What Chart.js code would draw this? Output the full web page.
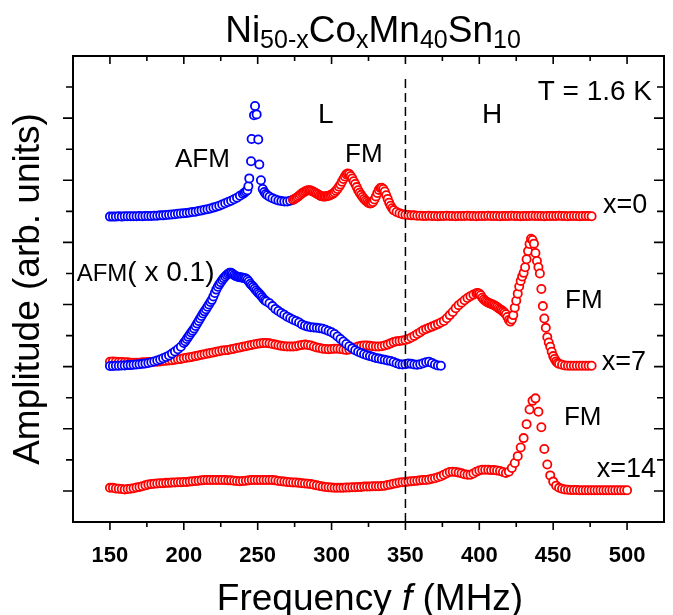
<!DOCTYPE html>
<html>
<head>
<meta charset="utf-8">
<script src="https://cdn.jsdelivr.net/npm/chart.js@4.4.0/dist/chart.umd.min.js"></script>
<style>
html,body{margin:0;padding:0;background:#ffffff;}
#wrap{width:673px;height:615px;position:relative;}
</style>
</head>
<body>
<div id="wrap"><canvas id="c" width="673" height="615"></canvas></div>
<script>
// ---------------- data ----------------
const xLabelValues = [150,200,250,300,350,400,450,500];
const xMinorValues = [150,175,200,225,250,275,300,325,350,375,400,425,450,475,500];
const yTickValues = [1,2,3,4,5,6,7,8,9,10,11,12,13,14];
const dividerFreq = [350,350];
const dividerAmp = [0,14.4];

// x = 0, AFM (blue)
const x0AfmFreq = [150,152,154,156,158,160,162,164,166,168,170,172,174,176,178,180,182,184,186,188,190,192,194,196,198,200,202,204,206,208,210,212,214,216,218,220,222,224,226,228,230,232,234,236,238,240,241,242,243,243.7,244.3,245.5,245.9,247.5,248.2,249.3,250.4,251.1,252.2,253.4,254.5,255.5,256.5,258,260,262,264,266,268,270,272,274];
const x0AfmAmp = [9.83,9.83,9.83,9.84,9.83,9.84,9.84,9.84,9.84,9.84,9.85,9.84,9.85,9.85,9.85,9.86,9.86,9.87,9.87,9.88,9.89,9.90,9.91,9.92,9.93,9.94,9.95,9.96,9.98,9.99,10.01,10.03,10.05,10.07,10.09,10.12,10.15,10.18,10.22,10.26,10.30,10.34,10.39,10.44,10.50,10.56,10.60,10.64,10.68,10.81,11.06,11.61,12.33,13.09,13.39,13.12,12.31,11.51,11.00,10.72,10.62,10.56,10.52,10.47,10.42,10.38,10.35,10.33,10.32,10.32,10.34,10.37];

// x = 0, FM (red)
const x0FmFreq = [274,275,276,277,278,279,280,281,282,283,284,285,286,287,288,289,290,291,292,293,294,295,296,297,298,299,300,301,302,303,304,305,306,307,308,309,310,311,312,313,314,315,316,317,318,319,320,321,322,323,324,325,326,327,328,329,330,331,332,333,334,335,336,337,338,339,340,341,342,344,346,348,350,352,354,356,358,360,362,364,366,368,370,372,374,376,378,380,382,384,386,388,390,392,394,396,398,400,402,404,406,408,410,412,414,416,418,420,422,424,426,428,430,432,434,436,438,440,442,444,446,448,450,452,454,456,458,460,462,464,466,468,470,472,474,476];
const x0FmAmp = [10.37,10.40,10.43,10.46,10.50,10.54,10.58,10.61,10.64,10.66,10.68,10.68,10.67,10.65,10.62,10.60,10.57,10.54,10.51,10.49,10.48,10.48,10.48,10.49,10.50,10.52,10.54,10.57,10.61,10.66,10.72,10.79,10.86,10.95,11.04,11.12,11.19,11.22,11.20,11.14,11.06,10.97,10.88,10.78,10.68,10.60,10.53,10.46,10.40,10.35,10.31,10.27,10.25,10.26,10.30,10.38,10.48,10.59,10.69,10.75,10.76,10.72,10.64,10.52,10.40,10.28,10.18,10.10,10.04,9.98,9.94,9.91,9.89,9.88,9.87,9.87,9.86,9.86,9.85,9.85,9.86,9.85,9.85,9.84,9.85,9.85,9.86,9.85,9.85,9.84,9.85,9.85,9.85,9.86,9.85,9.85,9.84,9.85,9.85,9.85,9.86,9.85,9.85,9.85,9.84,9.85,9.85,9.85,9.86,9.85,9.85,9.84,9.85,9.85,9.85,9.86,9.85,9.85,9.85,9.84,9.85,9.85,9.85,9.85,9.86,9.85,9.85,9.84,9.85,9.85,9.85,9.84,9.85,9.85,9.85,9.84];

// x = 7, AFM x 0.1 (blue)
const x7AfmFreq = [150,152,154,156,158,160,162,164,166,168,170,172,174,176,178,180,182,184,186,188,190,192,194,196,198,200,201,202,203,204,205,206,207,208,209,210,211,212,213,214,215,216,217,218,219,220,221,222,223,224,225,226,227,228,229,230,231,232,233,234,235,236,237,238,239,240,241,242,243,244,245,246,247,248,249,250,251,252,253,254,255,256,258,260,262,264,266,268,270,272,274,276,278,280,282,284,286,288,290,292,294,296,298,300,302,304,306,308,310,312,314,316,318,320,322,324,326,328,330,332,334,336,338,340,342,344,346,348,350,352,354,356,358,360,362,364,366,368,370,372,374];
const x7AfmAmp = [5.02,5.02,5.03,5.03,5.04,5.04,5.05,5.05,5.06,5.07,5.08,5.09,5.10,5.12,5.14,5.17,5.20,5.23,5.27,5.31,5.36,5.42,5.49,5.56,5.64,5.76,5.82,5.89,5.96,6.03,6.10,6.16,6.23,6.31,6.39,6.47,6.55,6.63,6.71,6.78,6.85,6.93,7.00,7.08,7.15,7.26,7.37,7.48,7.57,7.65,7.72,7.79,7.85,7.90,7.95,7.99,8.02,8.02,7.99,7.95,7.92,7.90,7.89,7.88,7.87,7.86,7.85,7.84,7.80,7.74,7.67,7.62,7.57,7.51,7.45,7.40,7.35,7.30,7.24,7.18,7.13,7.10,7.04,6.95,6.86,6.79,6.73,6.67,6.61,6.56,6.51,6.47,6.42,6.36,6.32,6.29,6.27,6.26,6.25,6.24,6.22,6.19,6.15,6.11,6.05,5.97,5.89,5.81,5.73,5.66,5.59,5.53,5.48,5.44,5.40,5.37,5.34,5.31,5.28,5.26,5.24,5.22,5.20,5.18,5.15,5.11,5.08,5.07,5.08,5.10,5.09,5.07,5.06,5.08,5.11,5.14,5.16,5.12,5.07,5.04,5.03];

// x = 7, FM (red)
const x7FmFreq = [150,152,154,156,158,160,162,164,166,168,170,172,174,176,178,180,182,184,186,188,190,192,194,196,198,200,202,204,206,208,210,212,214,216,218,220,222,224,226,228,230,232,234,236,238,240,242,244,246,248,250,252,254,256,258,260,262,264,266,268,270,272,274,276,278,280,282,284,286,288,290,292,294,296,298,300,302,304,306,308,310,312,314,316,318,320,322,324,326,328,330,332,334,336,338,340,342,344,346,348,350,352,354,356,358,360,362,364,366,368,370,372,374,376,378,380,382,384,386,388,390,392,394,396,398,399,400,401,402,403,404,405,406,407,408,409,410,411,412,413,414,415,416,417,418,419,420,421,422,423,424,425,426,427,428,429,430,431,432,433,434,435,436,437,438,439,440,441,442,443,444,445,446,447,448,449,450,451,452,453,454,456,458,460,462,464,466,468,470,472,474,476];
const x7FmAmp = [5.16,5.17,5.16,5.15,5.15,5.14,5.14,5.13,5.13,5.13,5.13,5.14,5.14,5.15,5.15,5.16,5.16,5.17,5.18,5.19,5.20,5.21,5.22,5.24,5.25,5.27,5.29,5.30,5.32,5.34,5.36,5.38,5.40,5.42,5.44,5.46,5.48,5.50,5.52,5.53,5.54,5.56,5.58,5.60,5.62,5.64,5.66,5.68,5.70,5.72,5.74,5.75,5.76,5.76,5.75,5.73,5.71,5.69,5.67,5.66,5.65,5.65,5.65,5.66,5.68,5.70,5.71,5.70,5.68,5.65,5.62,5.60,5.58,5.57,5.56,5.57,5.58,5.58,5.57,5.55,5.54,5.55,5.58,5.62,5.65,5.67,5.68,5.68,5.67,5.66,5.65,5.65,5.66,5.68,5.71,5.75,5.79,5.82,5.83,5.84,5.86,5.89,5.94,5.99,6.05,6.11,6.17,6.21,6.25,6.29,6.33,6.37,6.42,6.47,6.56,6.66,6.76,6.88,6.98,7.06,7.14,7.21,7.27,7.32,7.36,7.37,7.35,7.30,7.22,7.16,7.12,7.09,7.06,7.04,7.02,7.00,6.98,6.95,6.92,6.88,6.85,6.82,6.78,6.74,6.69,6.60,6.50,6.45,6.52,6.66,6.90,7.12,7.35,7.58,7.76,7.90,8.02,8.20,8.46,8.72,8.95,9.12,9.08,8.96,8.66,8.40,8.20,8.00,7.50,6.95,6.55,6.25,5.95,5.78,5.64,5.48,5.34,5.25,5.17,5.12,5.09,5.06,5.04,5.03,5.03,5.03,5.03,5.03,5.03,5.03,5.03,5.03];

// x = 14, FM (red)
const x14Freq = [150,152,154,156,158,160,162,164,166,168,170,172,174,176,178,180,182,184,186,188,190,192,194,196,198,200,202,204,206,208,210,212,214,216,218,220,222,224,226,228,230,232,234,236,238,240,242,244,246,248,250,252,254,256,258,260,262,264,266,268,270,272,274,276,278,280,282,284,286,288,290,292,294,296,298,300,302,304,306,308,310,312,314,316,318,320,322,324,326,328,330,332,334,336,338,340,342,344,346,348,350,352,354,356,358,360,362,364,366,368,370,372,374,376,378,380,382,384,386,388,390,392,394,396,398,400,402,404,406,408,410,412,414,416,418,420,422,424,426,428,430,432,434,436,438,440,442,444,446,448,450,452,454,456,458,460,462,464,466,468,470,472,474,476,478,480,482,484,486,488,490,492,494,496,498,500];
const x14Amp = [1.10,1.10,1.08,1.07,1.06,1.05,1.06,1.07,1.09,1.11,1.13,1.15,1.18,1.21,1.22,1.23,1.24,1.25,1.25,1.26,1.26,1.27,1.27,1.28,1.28,1.29,1.29,1.30,1.31,1.32,1.33,1.34,1.35,1.35,1.35,1.35,1.35,1.35,1.35,1.35,1.34,1.34,1.33,1.32,1.31,1.32,1.33,1.34,1.35,1.35,1.35,1.35,1.35,1.35,1.35,1.35,1.34,1.32,1.31,1.30,1.29,1.28,1.27,1.27,1.26,1.25,1.24,1.23,1.22,1.20,1.18,1.16,1.14,1.13,1.12,1.11,1.10,1.10,1.10,1.10,1.11,1.11,1.12,1.12,1.13,1.13,1.14,1.14,1.14,1.15,1.15,1.15,1.16,1.17,1.19,1.21,1.23,1.25,1.27,1.28,1.29,1.30,1.31,1.32,1.33,1.34,1.35,1.35,1.37,1.39,1.41,1.44,1.47,1.52,1.57,1.61,1.62,1.61,1.59,1.57,1.54,1.52,1.52,1.56,1.62,1.66,1.68,1.68,1.68,1.67,1.67,1.66,1.64,1.61,1.58,1.62,1.74,1.90,2.12,2.40,2.70,3.15,3.62,3.90,3.98,3.55,3.05,2.35,1.85,1.50,1.30,1.17,1.10,1.07,1.05,1.04,1.03,1.03,1.03,1.02,1.02,1.02,1.02,1.02,1.02,1.02,1.02,1.02,1.02,1.02,1.02,1.02,1.02,1.02,1.02,1.02];

// ---------------- rendering ----------------
const FONT = "'Liberation Sans', Arial, Helvetica, sans-serif";
const BLUE = '#0000ff', RED = '#ff0000';
const pts = (f, a) => f.map((v, i) => ({x: v, y: a[i]}));

function markerSet(label, f, a, color, order) {
  return {
    label, data: pts(f, a), order,
    showLine: false,
    pointStyle: 'circle',
    pointRadius: 4.1,
    pointBorderWidth: 1.8,
    pointBorderColor: color,
    pointBackgroundColor: '#ffffff',
    borderColor: color,
    backgroundColor: '#ffffff'
  };
}

const framePlugin = {
  id: 'frame',
  afterDraw(chart) {
    const {ctx, chartArea: a, scales: {x, y}} = chart;
    ctx.save();
    ctx.strokeStyle = '#000';
    ctx.lineWidth = 2;
    ctx.strokeRect(a.left, a.top, a.right - a.left, a.bottom - a.top);
    ctx.lineWidth = 1.6;
    ctx.beginPath();
    xMinorValues.forEach(v => {
      const px = x.getPixelForValue(v);
      const len = xLabelValues.includes(v) ? 8 : 5;
      ctx.moveTo(px, a.bottom); ctx.lineTo(px, a.bottom + len);
      ctx.moveTo(px, a.top); ctx.lineTo(px, a.top + len);
    });
    yTickValues.forEach(v => {
      const py = y.getPixelForValue(v);
      const len = (v % 2 === 1) ? 10 : 7;
      ctx.moveTo(a.left, py); ctx.lineTo(a.left - len, py);
      ctx.moveTo(a.right, py); ctx.lineTo(a.right - len, py);
    });
    ctx.stroke();
    ctx.restore();
  }
};

function drawRuns(ctx, runs, startX, baseY) {
  let cx = startX;
  runs.forEach(r => {
    ctx.font = r.font;
    ctx.fillText(r.t, cx, baseY + (r.dy || 0));
    cx += ctx.measureText(r.t).width;
  });
}
function runsWidth(ctx, runs) {
  let w = 0;
  runs.forEach(r => { ctx.font = r.font; w += ctx.measureText(r.t).width; });
  return w;
}

const textPlugin = {
  id: 'texts',
  afterDraw(chart) {
    const {ctx, chartArea: a, scales: {x, y}} = chart;
    ctx.save();
    ctx.fillStyle = '#000';
    ctx.textBaseline = 'alphabetic';
    ctx.textAlign = 'left';
    // title with subscripts
    const M = '37px ' + FONT, S = '25px ' + FONT;
    const title = [
      {t: 'Ni', font: M}, {t: '50-x', font: S, dy: 6},
      {t: 'Co', font: M}, {t: 'x', font: S, dy: 6},
      {t: 'Mn', font: M}, {t: '40', font: S, dy: 6},
      {t: 'Sn', font: M}, {t: '10', font: S, dy: 6}
    ];
    const tw = runsWidth(ctx, title);
    drawRuns(ctx, title, 373 - tw / 2, 42);

    // x axis title with italic f
    const XF = '37px ' + FONT, XI = 'italic 37px ' + FONT;
    const xt = [{t: 'Frequency ', font: XF}, {t: 'f', font: XI}, {t: ' (MHz)', font: XF}];
    const xw = runsWidth(ctx, xt);
    drawRuns(ctx, xt, 370 - xw / 2, 610);

    // annotations (anchored in data coordinates)
    const P = (f, v) => [x.getPixelForValue(f), y.getPixelForValue(v)];
    const put = (txt, f, v, size, align) => {
      const [px, py] = P(f, v);
      ctx.font = size + 'px ' + FONT;
      ctx.textAlign = align || 'left';
      ctx.fillText(txt, px, py);
      ctx.textAlign = 'left';
    };
    put('T = 1.6 K', 516.9, 13.58, 28, 'right');
    put('L', 290.8, 12.85, 28);
    put('H', 401.8, 12.85, 28);
    put('AFM', 194.0, 11.43, 26);
    put('FM', 309.1, 11.60, 26);
    put('x=0', 483.7, 9.95, 27);
    put('FM', 458.0, 6.88, 26);
    put('x=7', 482.8, 4.89, 27);
    put('FM', 457.3, 3.12, 26);
    put('x=14', 479.4, 1.45, 27);
    const [ax, ay] = P(127.5, 7.77);
    drawRuns(ctx, [{t: 'AFM', font: '24px ' + FONT}, {t: '( x 0.1)', font: '28px ' + FONT}], ax, ay);
    ctx.restore();
  }
};

new Chart(document.getElementById('c'), {
  type: 'scatter',
  data: {
    datasets: [
      {
        label: 'divider', data: pts(dividerFreq, dividerAmp), order: 0,
        showLine: true, borderColor: '#000', borderWidth: 1.5, borderDash: [9, 5],
        pointRadius: 0, fill: false
      },
      markerSet('x=7 AFM (x0.1)', x7AfmFreq, x7AfmAmp, BLUE, 1),
      markerSet('x=0 AFM', x0AfmFreq, x0AfmAmp, BLUE, 3),
      markerSet('x=0 FM', x0FmFreq, x0FmAmp, RED, 2),
      markerSet('x=7 FM', x7FmFreq, x7FmAmp, RED, 4),
      markerSet('x=14 FM', x14Freq, x14Amp, RED, 5)
    ]
  },
  options: {
    responsive: false,
    animation: false,
    events: [],
    layout: {padding: {top: 56, right: 9, left: 0, bottom: 0}},
    plugins: {legend: {display: false}, tooltip: {enabled: false}, title: {display: false}},
    scales: {
      x: {
        type: 'linear', min: 125, max: 525,
        afterBuildTicks: s => { s.ticks = xLabelValues.map(v => ({value: v})); },
        afterFit: s => { s.height = 93; },
        grid: {display: false}, border: {display: false},
        ticks: {
          autoSkip: false, maxRotation: 0, padding: 13, color: '#000',
          font: {family: FONT, size: 22, weight: 'bold'},
          callback: v => String(v)
        },
        title: {display: false}
      },
      y: {
        type: 'linear', min: 0, max: 15,
        afterFit: s => { s.width = 73; },
        grid: {display: false}, border: {display: false},
        ticks: {display: false},
        title: {
          display: true, text: 'Amplitude (arb. units)', color: '#000',
          font: {family: FONT, size: 37, lineHeight: 1.2},
          padding: {top: 7, bottom: 0}
        }
      }
    }
  },
  plugins: [framePlugin, textPlugin]
});
</script>
</body>
</html>
